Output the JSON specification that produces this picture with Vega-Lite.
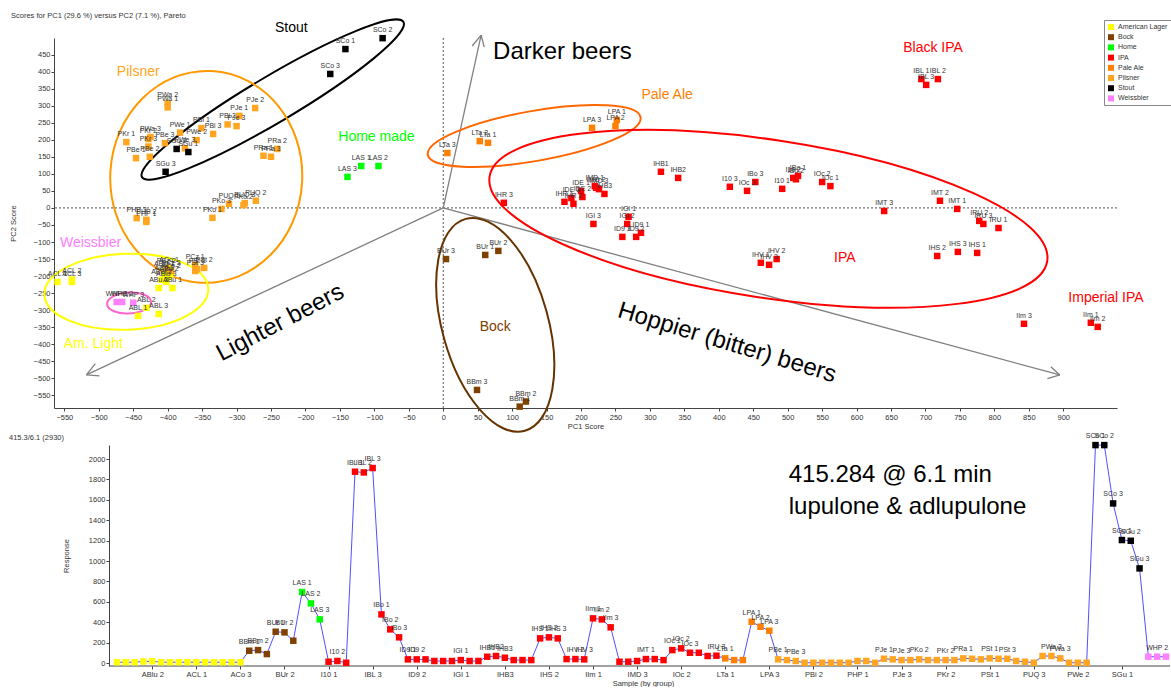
{
"$schema": "https://vega.github.io/schema/vega-lite/v6.json",
"padding": {"left": 9, "top": 11, "right": 0, "bottom": 0},
"bounds": "flush",
"spacing": 37,
"config": {
  "view": {"stroke": null},
  "font": "Liberation Sans",
  "axis": {"labelFont": "Liberation Sans", "titleFont": "Liberation Sans", "labelFontSize": 7.5, "titleFontSize": 7.5, "titleFontWeight": "normal", "labelColor": "#333", "titleColor": "#333", "domainColor": "#444", "tickColor": "#444", "tickSize": 3, "grid": false, "labelOverlap": false, "labelFlush": false, "labelPadding": 1}
},
"resolve": {"scale": {"color": "independent"}, "legend": {"color": "independent"}},
"datasets": {
  "s": [
{"i":1,"s":"ABL 1","g":"American Lager","pc1":-443,"pc2":-317,"r":8,"lab":0},
{"i":2,"s":"ABL 2","g":"American Lager","pc1":-431,"pc2":-293,"r":8,"lab":0},
{"i":3,"s":"ABL 3","g":"American Lager","pc1":-413,"pc2":-311,"r":8,"lab":0},
{"i":4,"s":"ABlu 1","g":"American Lager","pc1":-405,"pc2":-187,"r":15,"lab":0},
{"i":5,"s":"ABlu 2","g":"American Lager","pc1":-409,"pc2":-211,"r":18,"lab":0},
{"i":6,"s":"ABlu 3","g":"American Lager","pc1":-402,"pc2":-217,"r":8,"lab":0},
{"i":7,"s":"ABu 1","g":"American Lager","pc1":-393,"pc2":-235,"r":8,"lab":0},
{"i":8,"s":"ABu 2","g":"American Lager","pc1":-398,"pc2":-202,"r":8,"lab":0},
{"i":9,"s":"ABu 3","g":"American Lager","pc1":-413,"pc2":-235,"r":8,"lab":0},
{"i":10,"s":"ACL 1","g":"American Lager","pc1":-560,"pc2":-217,"r":8,"lab":0},
{"i":11,"s":"ACL 2","g":"American Lager","pc1":-539,"pc2":-210,"r":8,"lab":0},
{"i":12,"s":"ACL 3","g":"American Lager","pc1":-539,"pc2":-217,"r":8,"lab":0},
{"i":13,"s":"ACo 1","g":"American Lager","pc1":-398,"pc2":-176,"r":8,"lab":0},
{"i":14,"s":"ACo 2","g":"American Lager","pc1":-395,"pc2":-193,"r":8,"lab":0},
{"i":15,"s":"ACo 3","g":"American Lager","pc1":-405,"pc2":-199,"r":8,"lab":0},
{"i":16,"s":"BBm 1","g":"Bock","pc1":111,"pc2":-583,"r":121,"lab":1},
{"i":17,"s":"BBm 2","g":"Bock","pc1":120,"pc2":-568,"r":127,"lab":1},
{"i":18,"s":"BBm 3","g":"Bock","pc1":49,"pc2":-534,"r":88,"lab":0},
{"i":19,"s":"BUr 1","g":"Bock","pc1":61,"pc2":-138,"r":307,"lab":1},
{"i":20,"s":"BUr 2","g":"Bock","pc1":80,"pc2":-126,"r":301,"lab":1},
{"i":21,"s":"BUr 3","g":"Bock","pc1":4,"pc2":-150,"r":219,"lab":0},
{"i":22,"s":"LAS 1","g":"Home","pc1":-119,"pc2":123,"r":696,"lab":1},
{"i":23,"s":"LAS 2","g":"Home","pc1":-94,"pc2":123,"r":585,"lab":1},
{"i":24,"s":"LAS 3","g":"Home","pc1":-139,"pc2":91,"r":428,"lab":1},
{"i":25,"s":"I10 1","g":"IPA","pc1":492,"pc2":56,"r":13,"lab":0},
{"i":26,"s":"I10 2","g":"IPA","pc1":508,"pc2":88,"r":20,"lab":1},
{"i":27,"s":"I10 3","g":"IPA","pc1":416,"pc2":62,"r":3,"lab":0},
{"i":28,"s":"IBL 1","g":"IPA","pc1":694,"pc2":378,"r":1876,"lab":1},
{"i":29,"s":"IBL 2","g":"IPA","pc1":718,"pc2":378,"r":1869,"lab":1},
{"i":30,"s":"IBL 3","g":"IPA","pc1":701,"pc2":361,"r":1912,"lab":1},
{"i":31,"s":"IBo 1","g":"IPA","pc1":515,"pc2":94,"r":477,"lab":1},
{"i":32,"s":"IBo 2","g":"IPA","pc1":512,"pc2":84,"r":330,"lab":1},
{"i":33,"s":"IBo 3","g":"IPA","pc1":453,"pc2":76,"r":252,"lab":1},
{"i":34,"s":"ID9 1","g":"IPA","pc1":287,"pc2":-73,"r":36,"lab":1},
{"i":35,"s":"ID9 2","g":"IPA","pc1":280,"pc2":-85,"r":36,"lab":1},
{"i":36,"s":"ID9 3","g":"IPA","pc1":260,"pc2":-85,"r":36,"lab":0},
{"i":37,"s":"IDE 1","g":"IPA","pc1":200,"pc2":50,"r":20,"lab":0},
{"i":38,"s":"IDE 2","g":"IPA","pc1":202,"pc2":32,"r":20,"lab":0},
{"i":39,"s":"IDE 3","g":"IPA","pc1":186,"pc2":29,"r":20,"lab":0},
{"i":40,"s":"IGI 1","g":"IPA","pc1":269,"pc2":-26,"r":29,"lab":1},
{"i":41,"s":"IGI 2","g":"IPA","pc1":267,"pc2":-47,"r":20,"lab":0},
{"i":42,"s":"IGI 3","g":"IPA","pc1":218,"pc2":-47,"r":20,"lab":0},
{"i":43,"s":"IHB1","g":"IPA","pc1":316,"pc2":106,"r":62,"lab":1},
{"i":44,"s":"IHB2","g":"IPA","pc1":341,"pc2":88,"r":69,"lab":1},
{"i":45,"s":"IHB3","g":"IPA","pc1":234,"pc2":41,"r":52,"lab":1},
{"i":46,"s":"IHR 1","g":"IPA","pc1":176,"pc2":18,"r":29,"lab":0},
{"i":47,"s":"IHR 2","g":"IPA","pc1":189,"pc2":12,"r":29,"lab":0},
{"i":48,"s":"IHR 3","g":"IPA","pc1":88,"pc2":15,"r":29,"lab":0},
{"i":49,"s":"IHS 1","g":"IPA","pc1":775,"pc2":-132,"r":242,"lab":1},
{"i":50,"s":"IHS 2","g":"IPA","pc1":717,"pc2":-141,"r":252,"lab":1},
{"i":51,"s":"IHS 3","g":"IPA","pc1":747,"pc2":-129,"r":242,"lab":1},
{"i":52,"s":"IHV 1","g":"IPA","pc1":461,"pc2":-161,"r":39,"lab":0},
{"i":53,"s":"IHV 2","g":"IPA","pc1":484,"pc2":-150,"r":39,"lab":1},
{"i":54,"s":"IHV 3","g":"IPA","pc1":473,"pc2":-167,"r":36,"lab":1},
{"i":55,"s":"IIm 1","g":"IPA","pc1":940,"pc2":-337,"r":438,"lab":1},
{"i":56,"s":"IIm 2","g":"IPA","pc1":950,"pc2":-349,"r":428,"lab":1},
{"i":57,"s":"IIm 3","g":"IPA","pc1":843,"pc2":-340,"r":350,"lab":1},
{"i":58,"s":"IMD 1","g":"IPA","pc1":220,"pc2":64,"r":13,"lab":0},
{"i":59,"s":"IMD 2","g":"IPA","pc1":222,"pc2":59,"r":13,"lab":0},
{"i":60,"s":"IMD 3","g":"IPA","pc1":226,"pc2":55,"r":20,"lab":0},
{"i":61,"s":"IMT 1","g":"IPA","pc1":746,"pc2":-3,"r":39,"lab":1},
{"i":62,"s":"IMT 2","g":"IPA","pc1":721,"pc2":21,"r":39,"lab":0},
{"i":63,"s":"IMT 3","g":"IPA","pc1":640,"pc2":-9,"r":29,"lab":0},
{"i":64,"s":"IOc 1","g":"IPA","pc1":562,"pc2":64,"r":127,"lab":1},
{"i":65,"s":"IOc 2","g":"IPA","pc1":550,"pc2":76,"r":144,"lab":1},
{"i":66,"s":"IOc 3","g":"IPA","pc1":441,"pc2":50,"r":101,"lab":1},
{"i":67,"s":"IRU 1","g":"IPA","pc1":806,"pc2":-59,"r":101,"lab":0},
{"i":68,"s":"IRU 2","g":"IPA","pc1":778,"pc2":-38,"r":69,"lab":0},
{"i":69,"s":"IRU 3","g":"IPA","pc1":784,"pc2":-47,"r":72,"lab":1},
{"i":70,"s":"LTa 1","g":"Pale Ale","pc1":65,"pc2":191,"r":46,"lab":1},
{"i":71,"s":"LTa 2","g":"Pale Ale","pc1":53,"pc2":196,"r":29,"lab":0},
{"i":72,"s":"LTa 3","g":"Pale Ale","pc1":6,"pc2":161,"r":29,"lab":0},
{"i":73,"s":"LPA 1","g":"Pale Ale","pc1":252,"pc2":258,"r":405,"lab":1},
{"i":74,"s":"LPA 2","g":"Pale Ale","pc1":250,"pc2":240,"r":356,"lab":1},
{"i":75,"s":"LPA 3","g":"Pale Ale","pc1":216,"pc2":235,"r":317,"lab":1},
{"i":76,"s":"PBe 1","g":"Pilsner","pc1":-446,"pc2":146,"r":36,"lab":1},
{"i":77,"s":"PBe 2","g":"Pilsner","pc1":-426,"pc2":150,"r":29,"lab":0},
{"i":78,"s":"PBe 3","g":"Pilsner","pc1":-404,"pc2":190,"r":20,"lab":1},
{"i":79,"s":"PBi 1","g":"Pilsner","pc1":-351,"pc2":234,"r":3,"lab":0},
{"i":80,"s":"PBi 2","g":"Pilsner","pc1":-313,"pc2":245,"r":3,"lab":0},
{"i":81,"s":"PBi 3","g":"Pilsner","pc1":-334,"pc2":217,"r":3,"lab":0},
{"i":82,"s":"PCz 1","g":"Pilsner","pc1":-360,"pc2":-167,"r":3,"lab":0},
{"i":83,"s":"PCz 2","g":"Pilsner","pc1":-402,"pc2":-178,"r":3,"lab":0},
{"i":84,"s":"PCz 3","g":"Pilsner","pc1":-395,"pc2":-185,"r":3,"lab":0},
{"i":85,"s":"PHP 1","g":"Pilsner","pc1":-431,"pc2":-41,"r":20,"lab":0},
{"i":86,"s":"PHP 2","g":"Pilsner","pc1":-431,"pc2":-35,"r":20,"lab":0},
{"i":87,"s":"PHP 3","g":"Pilsner","pc1":-445,"pc2":-30,"r":3,"lab":0},
{"i":88,"s":"PJe 1","g":"Pilsner","pc1":-296,"pc2":270,"r":42,"lab":1},
{"i":89,"s":"PJe 2","g":"Pilsner","pc1":-273,"pc2":293,"r":36,"lab":0},
{"i":90,"s":"PJe 3","g":"Pilsner","pc1":-300,"pc2":240,"r":29,"lab":1},
{"i":91,"s":"PKo 1","g":"Pilsner","pc1":-335,"pc2":-29,"r":29,"lab":0},
{"i":92,"s":"PKo 2","g":"Pilsner","pc1":-290,"pc2":8,"r":36,"lab":1},
{"i":93,"s":"PKo 3","g":"Pilsner","pc1":-322,"pc2":-3,"r":29,"lab":0},
{"i":94,"s":"PKr 1","g":"Pilsner","pc1":-460,"pc2":193,"r":29,"lab":0},
{"i":95,"s":"PKr 2","g":"Pilsner","pc1":-428,"pc2":202,"r":29,"lab":1},
{"i":96,"s":"PKr 3","g":"Pilsner","pc1":-428,"pc2":180,"r":29,"lab":0},
{"i":97,"s":"PRa 1","g":"Pilsner","pc1":-261,"pc2":153,"r":46,"lab":1},
{"i":98,"s":"PRa 2","g":"Pilsner","pc1":-241,"pc2":173,"r":42,"lab":0},
{"i":99,"s":"PRa 3","g":"Pilsner","pc1":-250,"pc2":150,"r":36,"lab":0},
{"i":100,"s":"PSt 1","g":"Pilsner","pc1":-357,"pc2":-180,"r":46,"lab":1},
{"i":101,"s":"PSt 2","g":"Pilsner","pc1":-347,"pc2":-176,"r":42,"lab":0},
{"i":102,"s":"PSt 3","g":"Pilsner","pc1":-360,"pc2":-185,"r":42,"lab":1},
{"i":103,"s":"PUQ 1","g":"Pilsner","pc1":-311,"pc2":12,"r":20,"lab":0},
{"i":104,"s":"PUQ 2","g":"Pilsner","pc1":-272,"pc2":21,"r":13,"lab":0},
{"i":105,"s":"PUQ 3","g":"Pilsner","pc1":-288,"pc2":14,"r":3,"lab":0},
{"i":106,"s":"PWa 1","g":"Pilsner","pc1":-400,"pc2":295,"r":69,"lab":0},
{"i":107,"s":"PWa 2","g":"Pilsner","pc1":-400,"pc2":307,"r":69,"lab":1},
{"i":108,"s":"PWa 3","g":"Pilsner","pc1":-425,"pc2":208,"r":46,"lab":1},
{"i":109,"s":"PWe 1","g":"Pilsner","pc1":-382,"pc2":221,"r":3,"lab":0},
{"i":110,"s":"PWe 2","g":"Pilsner","pc1":-358,"pc2":199,"r":3,"lab":0},
{"i":111,"s":"PWe 3","g":"Pilsner","pc1":-375,"pc2":175,"r":3,"lab":0},
{"i":112,"s":"SCo 1","g":"Stout","pc1":-142,"pc2":466,"r":2137,"lab":1},
{"i":113,"s":"SCo 2","g":"Stout","pc1":-88,"pc2":498,"r":2137,"lab":1},
{"i":114,"s":"SCo 3","g":"Stout","pc1":-164,"pc2":393,"r":1565,"lab":1},
{"i":115,"s":"SGu 1","g":"Stout","pc1":-370,"pc2":164,"r":1206,"lab":1},
{"i":116,"s":"SGu 2","g":"Stout","pc1":-387,"pc2":173,"r":1199,"lab":1},
{"i":117,"s":"SGu 3","g":"Stout","pc1":-403,"pc2":106,"r":928,"lab":1},
{"i":118,"s":"WHP 1","g":"Weissbier","pc1":-474,"pc2":-276,"r":62,"lab":0},
{"i":119,"s":"WHP 2","g":"Weissbier","pc1":-466,"pc2":-276,"r":62,"lab":1},
{"i":120,"s":"WHP 3","g":"Weissbier","pc1":-450,"pc2":-278,"r":62,"lab":0}
  ],
  "arrows": [
{"pc1":0,"pc2":0,"pc1e":55,"pc2e":507},
{"pc1":55,"pc2":507,"pc1e":42,"pc2e":475},
{"pc1":55,"pc2":507,"pc1e":59.5,"pc2e":472},
{"pc1":0,"pc2":0,"pc1e":-518,"pc2e":-490},
{"pc1":-518,"pc2":-490,"pc1e":-505,"pc2e":-457},
{"pc1":-518,"pc2":-490,"pc1e":-499,"pc2e":-493},
{"pc1":0,"pc2":0,"pc1e":895,"pc2e":-490},
{"pc1":895,"pc2":-490,"pc1e":882,"pc2e":-466},
{"pc1":895,"pc2":-490,"pc1e":877,"pc2e":-501}
  ],
  "ann": [
{"t":"Stout","g":"Stout","pc1":-220.6,"pc2":528},
{"t":"Pilsner","g":"Pilsner","pc1":-442.7,"pc2":399},
{"t":"Home made","g":"Home","pc1":-97,"pc2":208},
{"t":"Pale Ale","g":"Pale Ale","pc1":325,"pc2":331},
{"t":"Black IPA","g":"IPA","pc1":711,"pc2":469},
{"t":"IPA","g":"IPA","pc1":583,"pc2":-147},
{"t":"Imperial IPA","g":"IPA","pc1":962,"pc2":-264},
{"t":"Weissbier","g":"Weissbier","pc1":-512,"pc2":-103},
{"t":"Am. Light","g":"American Lager","pc1":-508,"pc2":-399},
{"t":"Bock","g":"Bock","pc1":75.5,"pc2":-349}
  ],
  "ann2": [
{"t":"415.284 @ 6.1 min","i":77.2,"r":1844},
{"t":"lupulone & adlupulone","i":77.2,"r":1530}
  ]
},
"vconcat": [
{
  "width": 1063,
  "height": 370,
  "title": {"text": "Scores for PC1 (29.6 %) versus PC2 (7.1 %), Pareto", "anchor": "start", "frame": "group", "fontSize": 7.5, "fontWeight": "normal", "font": "Liberation Sans", "color": "#333", "dx": -43, "offset": -4},
  "layer": [
    {"data": {"values": [{}]}, "mark": {"type": "rule", "strokeDash": [2, 2], "color": "#555", "strokeWidth": 1}, "encoding": {"x": {"datum": 0}}},
    {"data": {"values": [{}]}, "mark": {"type": "rule", "strokeDash": [2, 2], "color": "#555", "strokeWidth": 1}, "encoding": {"y": {"datum": 0}}},
    {"data": {"name": "arrows"}, "mark": {"type": "rule", "color": "#808080", "strokeWidth": 1.3},
     "encoding": {"x": {"field": "pc1", "type": "quantitative"}, "y": {"field": "pc2", "type": "quantitative"}, "x2": {"field": "pc1e"}, "y2": {"field": "pc2e"}}},
    {"data": {"values": [{"pc1": -247.5, "pc2": 318}]}, "mark": {"type": "point", "shape": "M 1 0 C 1 0.0836 0.5523 0.1513 0 0.1513 C -0.5523 0.1513 -1 0.0836 -1 0 C -1 -0.0836 -0.5523 -0.1513 0 -0.1513 C 0.5523 -0.1513 1 -0.0836 1 0 Z", "size": 92416, "angle": -30.7, "filled": false, "color": "#000000", "strokeWidth": 2, "opacity": 1},
     "encoding": {"x": {"field": "pc1", "type": "quantitative"}, "y": {"field": "pc2", "type": "quantitative"}}},
    {"data": {"values": [{"pc1": -344, "pc2": 91}]}, "mark": {"type": "point", "shape": "M 1 0 C 1 0.6098 0.5523 1.104 0 1.104 C -0.5523 1.104 -1 0.6098 -1 0 C -1 -0.6098 -0.5523 -1.104 0 -1.104 C 0.5523 -1.104 1 -0.6098 1 0 Z", "size": 36864, "angle": 3, "filled": false, "color": "#FF9900", "strokeWidth": 2, "opacity": 1},
     "encoding": {"x": {"field": "pc1", "type": "quantitative"}, "y": {"field": "pc2", "type": "quantitative"}}},
    {"data": {"values": [{"pc1": 132, "pc2": 211}]}, "mark": {"type": "point", "shape": "M 1 0 C 1 0.1278 0.5523 0.2315 0 0.2315 C -0.5523 0.2315 -1 0.1278 -1 0 C -1 -0.1278 -0.5523 -0.2315 0 -0.2315 C 0.5523 -0.2315 1 -0.1278 1 0 Z", "size": 46656, "angle": -10, "filled": false, "color": "#FF6600", "strokeWidth": 2, "opacity": 1},
     "encoding": {"x": {"field": "pc1", "type": "quantitative"}, "y": {"field": "pc2", "type": "quantitative"}}},
    {"data": {"values": [{"pc1": 472, "pc2": -32}]}, "mark": {"type": "point", "shape": "M 1 0 C 1 0.1547 0.5523 0.2801 0 0.2801 C -0.5523 0.2801 -1 0.1547 -1 0 C -1 -0.1547 -0.5523 -0.2801 0 -0.2801 C 0.5523 -0.2801 1 -0.1547 1 0 Z", "size": 318096, "angle": 8.6, "filled": false, "color": "#FF0000", "strokeWidth": 2, "opacity": 1},
     "encoding": {"x": {"field": "pc1", "type": "quantitative"}, "y": {"field": "pc2", "type": "quantitative"}}},
    {"data": {"values": [{"pc1": 75.5, "pc2": -343}]}, "mark": {"type": "point", "shape": "M 1 0 C 1 0.2661 0.5523 0.4818 0 0.4818 C -0.5523 0.4818 -1 0.2661 -1 0 C -1 -0.2661 -0.5523 -0.4818 0 -0.4818 C 0.5523 -0.4818 1 -0.2661 1 0 Z", "size": 48400, "angle": 74.4, "filled": false, "color": "#663300", "strokeWidth": 2, "opacity": 1},
     "encoding": {"x": {"field": "pc1", "type": "quantitative"}, "y": {"field": "pc2", "type": "quantitative"}}},
    {"data": {"values": [{"pc1": -460, "pc2": -246}]}, "mark": {"type": "point", "shape": "M 1 0 C 1 0.2559 0.5523 0.4634 0 0.4634 C -0.5523 0.4634 -1 0.2559 -1 0 C -1 -0.2559 -0.5523 -0.4634 0 -0.4634 C 0.5523 -0.4634 1 -0.2559 1 0 Z", "size": 26896, "angle": -2, "filled": false, "color": "#FFFF00", "strokeWidth": 2, "opacity": 1},
     "encoding": {"x": {"field": "pc1", "type": "quantitative"}, "y": {"field": "pc2", "type": "quantitative"}}},
    {"data": {"values": [{"pc1": -456, "pc2": -279}]}, "mark": {"type": "point", "shape": "M 1 0 C 1 0.2636 0.5523 0.477 0 0.477 C -0.5523 0.477 -1 0.2636 -1 0 C -1 -0.2636 -0.5523 -0.477 0 -0.477 C 0.5523 -0.477 1 -0.2636 1 0 Z", "size": 1936, "angle": -3, "filled": false, "color": "#FF66CC", "strokeWidth": 2, "opacity": 1},
     "encoding": {"x": {"field": "pc1", "type": "quantitative"}, "y": {"field": "pc2", "type": "quantitative"}}},
    {"data": {"name": "s"}, "mark": {"type": "point", "shape": "square", "filled": true, "size": 42, "opacity": 1},
     "encoding": {
       "x": {"field": "pc1", "type": "quantitative", "scale": {"domain": [-565, 978], "nice": false, "zero": false}, "axis": {"title": "PC1 Score", "values": [-550,-500,-450,-400,-350,-300,-250,-200,-150,-100,-50,0,50,100,150,200,250,300,350,400,450,500,550,600,650,700,750,800,850,900], "tickCount": 200, "labelOverlap": false, "labelFlush": false, "titlePadding": 2, "labelPadding": 2}},
       "y": {"field": "pc2", "type": "quantitative", "scale": {"domain": [-587, 498.5], "nice": false, "zero": false}, "axis": {"title": "PC2 Score", "values": [-550,-500,-450,-400,-350,-300,-250,-200,-150,-100,-50,0,50,100,150,200,250,300,350,400,450], "tickCount": 200, "labelOverlap": false, "labelFlush": false, "titlePadding": 16}},
       "color": {"field": "g", "type": "nominal", "scale": {"domain": ["American Lager","Bock","Home","IPA","Pale Ale","Pilsner","Stout","Weissbier"], "range": ["#FFFF00","#804000","#00FF00","#FF0000","#FF7F00","#FFA520","#000000","#FF80FF"]},
         "legend": {"title": null, "orient": "none", "legendX": 1050, "legendY": -18, "symbolType": "square", "symbolSize": 36, "labelFontSize": 7, "labelFont": "Liberation Sans", "labelColor": "#333", "padding": 3, "strokeColor": "#888", "fillColor": "#ffffff", "rowPadding": 3.2, "labelLimit": 60, "labelOffset": 3}}
     }},
    {"data": {"name": "s"}, "mark": {"type": "text", "fontSize": 7, "font": "Liberation Sans", "color": "#333", "dy": -8},
     "encoding": {"x": {"field": "pc1", "type": "quantitative"}, "y": {"field": "pc2", "type": "quantitative"}, "text": {"field": "s"}}},
    {"data": {"name": "ann"}, "mark": {"type": "text", "fontSize": 14, "font": "Liberation Sans", "align": "center", "baseline": "middle"},
     "encoding": {"x": {"field": "pc1", "type": "quantitative"}, "y": {"field": "pc2", "type": "quantitative"}, "text": {"field": "t"},
       "color": {"field": "g", "type": "nominal", "scale": {"domain": ["American Lager","Bock","Home","IPA","Pale Ale","Pilsner","Stout","Weissbier"], "range": ["#FFFF00","#804000","#00FF00","#FF0000","#FF7F00","#FFA520","#000000","#FF80FF"]}, "legend": null}}},
    {"data": {"values": [{"t": "Darker beers", "pc1": 173, "pc2": 457}]}, "mark": {"type": "text", "fontSize": 24, "font": "Liberation Sans", "color": "#000", "align": "center", "baseline": "middle"},
     "encoding": {"x": {"field": "pc1", "type": "quantitative"}, "y": {"field": "pc2", "type": "quantitative"}, "text": {"field": "t"}}},
    {"data": {"values": [{"t": "Lighter beers", "pc1": -236.6, "pc2": -337}]}, "mark": {"type": "text", "fontSize": 24, "font": "Liberation Sans", "color": "#000", "align": "center", "baseline": "middle", "angle": -27.6},
     "encoding": {"x": {"field": "pc1", "type": "quantitative"}, "y": {"field": "pc2", "type": "quantitative"}, "text": {"field": "t"}}},
    {"data": {"values": [{"t": "Hoppier (bitter) beers", "pc1": 412, "pc2": -396}]}, "mark": {"type": "text", "fontSize": 24, "font": "Liberation Sans", "color": "#000", "align": "center", "baseline": "middle", "angle": 16.8},
     "encoding": {"x": {"field": "pc1", "type": "quantitative"}, "y": {"field": "pc2", "type": "quantitative"}, "text": {"field": "t"}}}
  ]
},
{
  "width": 1116,
  "height": 221,
  "title": {"text": "415.3/6.1 (2930)", "anchor": "start", "frame": "group", "fontSize": 7.5, "fontWeight": "normal", "font": "Liberation Sans", "color": "#333", "dx": -45, "offset": -9},
  "layer": [
    {"data": {"values": [{}]}, "mark": {"type": "rule", "color": "#444", "strokeWidth": 1}, "encoding": {"x": {"datum": 0.0925}, "x2": {"datum": 120.454}, "y": {"datum": -29}}},
    {"data": {"name": "s"}, "mark": {"type": "line", "color": "#5050FF", "strokeWidth": 1},
     "encoding": {
       "x": {"field": "i", "type": "quantitative", "scale": {"domain": [-6.147, 120.454], "nice": false, "zero": false}, "axis": {"title": "Sample (by group)", "values": [5,10,15,20,25,30,35,40,45,50,55,60,65,70,75,80,85,90,95,100,105,110,115], "tickCount": 200, "labelExpr": "['','ABlu 2','ACL 1','ACo 3','BUr 2','I10 1','IBL 3','ID9 2','IGI 1','IHB3','IHS 2','IIm 1','IMD 3','IOc 2','LTa 1','LPA 3','PBi 2','PHP 1','PJe 3','PKr 2','PSt 1','PUQ 3','PWe 2','SGu 1'][datum.value/5]", "labelOverlap": false, "labelFlush": false, "domain": false, "titleX": 589, "titlePadding": 2, "labelPadding": 1}},
       "y": {"field": "r", "type": "quantitative", "scale": {"domain": [-29, 2138], "nice": false, "zero": false}, "axis": {"title": "Response", "format": "d", "values": [0,200,400,600,800,1000,1200,1400,1600,1800,2000], "tickCount": 200, "labelOverlap": false, "labelFlush": false, "offset": -55, "titlePadding": 18}}
     }},
    {"data": {"name": "s"}, "mark": {"type": "point", "shape": "square", "filled": true, "size": 42, "opacity": 1},
     "encoding": {"x": {"field": "i", "type": "quantitative"}, "y": {"field": "r", "type": "quantitative"},
       "color": {"field": "g", "type": "nominal", "scale": {"domain": ["American Lager","Bock","Home","IPA","Pale Ale","Pilsner","Stout","Weissbier"], "range": ["#FFFF00","#804000","#00FF00","#FF0000","#FF7F00","#FFA520","#000000","#FF80FF"]}, "legend": null}}},
    {"data": {"name": "s"}, "transform": [{"filter": "datum.lab == 1"}], "mark": {"type": "text", "fontSize": 7, "font": "Liberation Sans", "color": "#333", "dy": -9},
     "encoding": {"x": {"field": "i", "type": "quantitative"}, "y": {"field": "r", "type": "quantitative"}, "text": {"field": "s"}}},
    {"data": {"name": "ann2"}, "mark": {"type": "text", "fontSize": 24, "font": "Liberation Sans", "color": "#000", "align": "left", "baseline": "middle"},
     "encoding": {"x": {"field": "i", "type": "quantitative"}, "y": {"field": "r", "type": "quantitative"}, "text": {"field": "t"}}}
  ]
}
]
}
